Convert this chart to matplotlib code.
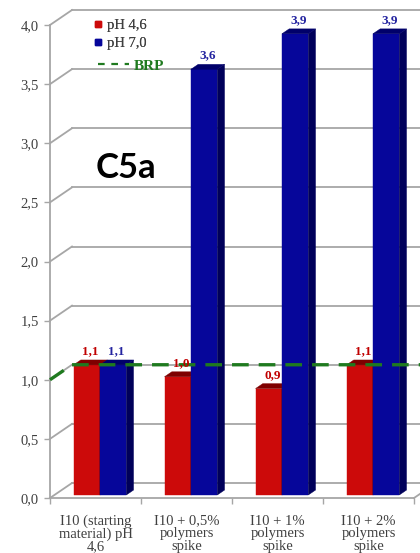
import matplotlib
matplotlib.use("Agg")
import matplotlib.pyplot as plt
from matplotlib.patches import Polygon
from matplotlib.lines import Line2D

# ---- data -------------------------------------------------------------
categories = [
    "I10 (starting\nmaterial) pH\n4,6",
    "I10 + 0,5%\npolymers\nspike",
    "I10 + 1%\npolymers\nspike",
    "I10 + 2%\npolymers\nspike",
]
ph46 = [1.1, 1.0, 0.9, 1.1]
ph70 = [1.1, 3.6, 3.9, 3.9]
brp_level = 1.0
y_ticks = [0.0, 0.5, 1.0, 1.5, 2.0, 2.5, 3.0, 3.5, 4.0]
series_names = ["pH 4,6", "pH 7,0", "BRP"]
panel_title = "C5a"


def comma(v):
    return f"{v:.1f}".replace(".", ",")


# ---- styling ----------------------------------------------------------
W, H, DPI = 420, 553, 100
serif = ["Liberation Serif", "DejaVu Serif"]
grid_col = "#a6a6a6"
tick_col = "#404040"
red_front, red_top, red_side = "#cc0a0a", "#7e0000", "#680000"
blue_front, blue_top, blue_side = "#06069a", "#00006a", "#00005a"
red_lab, blue_lab = "#c00000", "#2424a0"
brp_col = "#1f7a1f"

fig = plt.figure(figsize=(W / DPI, H / DPI), dpi=DPI)
fig.patch.set_facecolor("white")

ax_l, ax_b, ax_w, ax_h = 50, 55, 364, 473  # pixels (front plane)
ax = fig.add_axes([ax_l / W, ax_b / H, ax_w / W, ax_h / H])
n = len(categories)
ax.set_xlim(-0.5, n - 0.5)
ax.set_ylim(0, 4)

# depth of the pseudo-3D box, converted from pixels to data units
px_x = ax_w / n
px_y = ax_h / 4.0
DX = 22 / px_x
DY = 15 / px_y

# ---- walls and floor --------------------------------------------------
x_left, x_right = -0.5, n - 0.5
for t in y_ticks:
    # back-wall gridline
    ax.plot([x_left + DX, x_right + DX], [t + DY, t + DY], color=grid_col,
            lw=1.3, clip_on=False, zorder=1)
    # side-wall diagonal
    ax.plot([x_left, x_left + DX], [t, t + DY], color=grid_col, lw=1.3,
            clip_on=False, zorder=1)
# floor right edge
ax.plot([x_right, x_right + DX], [0, DY], color=grid_col, lw=1.3,
        clip_on=False, zorder=1)

# ---- 3D bars ----------------------------------------------------------
w = 0.29
f0 = 0.2   # depth position of bar front
bd = 0.33  # bar depth fraction


def bars(offset, vals, front, top, side, lab_col):
    xs = [i + offset for i in range(n)]
    ax.bar([x + f0 * DX for x in xs], vals, width=w, bottom=f0 * DY,
           color=front, edgecolor=front, linewidth=0.3, zorder=3)
    for x, v in zip(xs, vals):
        x0, x1 = x - w / 2, x + w / 2
        a, b = f0, f0 + bd
        top_poly = [(x0 + a * DX, v + a * DY), (x1 + a * DX, v + a * DY),
                    (x1 + b * DX, v + b * DY), (x0 + b * DX, v + b * DY)]
        side_poly = [(x1 + a * DX, a * DY), (x1 + b * DX, b * DY),
                     (x1 + b * DX, v + b * DY), (x1 + a * DX, v + a * DY)]
        ax.add_patch(Polygon(side_poly, closed=True, facecolor=side,
                             edgecolor=side, lw=0.3, zorder=3))
        ax.add_patch(Polygon(top_poly, closed=True, facecolor=top,
                             edgecolor=top, lw=0.3, zorder=3))
        ax.annotate(comma(v), (x + (a + bd / 2) * DX, v + b * DY),
                    xytext=(0, 2), textcoords="offset points",
                    ha="center", va="bottom", color=lab_col,
                    fontsize=9.5, fontweight="bold", family=serif,
                    zorder=6, annotation_clip=False)


bars(-w / 2, ph46, red_front, red_top, red_side, red_lab)
bars(w / 2, ph70, blue_front, blue_top, blue_side, blue_lab)

# ---- BRP reference line on the back wall --------------------------------
ax.plot([x_left, x_left + DX, x_right + DX],
        [brp_level, brp_level + DY, brp_level + DY],
        color=brp_col, lw=2.4, dashes=(5, 3), clip_on=False, zorder=5)

# ---- axes, ticks, labels -----------------------------------------------
for s in ["top", "right"]:
    ax.spines[s].set_visible(False)
for s in ["left", "bottom"]:
    ax.spines[s].set_color(grid_col)
    ax.spines[s].set_linewidth(1.3)
ax.set_facecolor("none")

ax.set_yticks(y_ticks)
ax.set_yticklabels([comma(t) for t in y_ticks], family=serif,
                   fontsize=10.5, color=tick_col)
ax.tick_params(axis="y", length=4, width=1, color=grid_col, pad=4)

ax.set_xticks(range(n))
ax.set_xticklabels(categories, family=serif, fontsize=10.5, color=tick_col,
                   linespacing=0.95)
ax.set_xticks([i - 0.5 for i in range(n + 1)], minor=True)
ax.tick_params(axis="x", which="major", length=0, pad=12)
ax.tick_params(axis="x", which="minor", length=4, width=1, color=grid_col)

# ---- legend ------------------------------------------------------------
sq_handles = [
    Line2D([], [], ls="none", marker="s", ms=4.5, color=red_front),
    Line2D([], [], ls="none", marker="s", ms=4.5, color=blue_front),
]
leg1 = fig.legend(sq_handles, series_names[:2], loc="upper left",
                  bbox_to_anchor=(94 / W, 1 - 19 / H),
                  bbox_transform=fig.transFigure, frameon=False,
                  prop={"family": serif, "size": 10.5}, labelcolor=tick_col,
                  handlelength=0.55, handletextpad=0.35, borderpad=0,
                  borderaxespad=0, labelspacing=0.3)
brp_handle = [Line2D([], [], color=brp_col, lw=1.6, dashes=(3, 3))]
leg2 = fig.legend(brp_handle, series_names[2:], loc="upper left",
                  bbox_to_anchor=(98 / W, 1 - 59 / H),
                  bbox_transform=fig.transFigure, frameon=False,
                  prop={"family": serif, "size": 11, "weight": "bold"},
                  labelcolor=brp_col, handlelength=2.0, handletextpad=0.35,
                  borderpad=0, borderaxespad=0)
fig.add_artist(leg1)

fig.text(96 / W, 1 - 178 / H, panel_title, family=["Lato", "DejaVu Sans"],
         fontweight="bold", fontsize=25, color="black", ha="left",
         va="baseline")

fig.savefig("out.png", dpi=DPI)
